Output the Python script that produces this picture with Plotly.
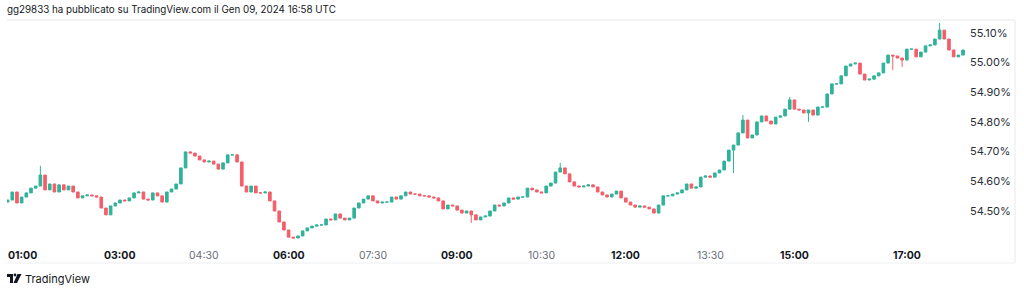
import pandas as pd
import plotly.graph_objects as go

# ---- data (5-minute candles, Jan 09 2024, local time) ----
START = "2024-01-09 01:00"
FIRST_OPEN = 54.530
CLOSES = [
    54.537, 54.564, 54.527, 54.547, 54.561, 54.577, 54.584, 54.621, 54.571, 54.591,
    54.564, 54.588, 54.571, 54.584, 54.564, 54.544, 54.551, 54.554, 54.551, 54.547,
    54.510, 54.487, 54.517, 54.527, 54.537, 54.534, 54.544, 54.561, 54.564, 54.540,
    54.537, 54.561, 54.551, 54.530, 54.564, 54.574, 54.591, 54.645, 54.699, 54.695,
    54.685, 54.672, 54.665, 54.668, 54.658, 54.641, 54.662, 54.689, 54.689, 54.665,
    54.584, 54.564, 54.584, 54.561, 54.561, 54.564, 54.534, 54.500, 54.463, 54.436,
    54.412, 54.409, 54.416, 54.433, 54.443, 54.449, 54.453, 54.453, 54.473, 54.470,
    54.490, 54.476, 54.470, 54.476, 54.510, 54.527, 54.540, 54.551, 54.534, 54.527,
    54.530, 54.530, 54.547, 54.540, 54.551, 54.564, 54.557, 54.557, 54.551, 54.551,
    54.547, 54.544, 54.534, 54.507, 54.520, 54.517, 54.503, 54.493, 54.500, 54.487,
    54.470, 54.480, 54.483, 54.500, 54.520, 54.517, 54.527, 54.544, 54.540, 54.547,
    54.547, 54.577, 54.571, 54.564, 54.561, 54.584, 54.594, 54.631, 54.645, 54.625,
    54.598, 54.584, 54.581, 54.584, 54.588, 54.581, 54.564, 54.554, 54.547, 54.557,
    54.567, 54.544, 54.530, 54.520, 54.513, 54.517, 54.513, 54.507, 54.493, 54.520,
    54.551, 54.551, 54.557, 54.561, 54.571, 54.591, 54.577, 54.581, 54.614, 54.618,
    54.614, 54.628, 54.638, 54.668, 54.705, 54.722, 54.763, 54.806, 54.746, 54.756,
    54.800, 54.820, 54.803, 54.793, 54.816, 54.820, 54.843, 54.874, 54.843, 54.840,
    54.830, 54.840, 54.823, 54.850, 54.850, 54.894, 54.928, 54.928, 54.955, 54.988,
    54.995, 54.998, 54.961, 54.941, 54.944, 54.955, 54.965, 54.998, 55.025, 55.022,
    55.015, 55.008, 55.045, 55.045, 55.019, 55.035, 55.056, 55.059, 55.079, 55.109,
    55.079, 55.042, 55.019, 55.025, 55.042,
]
# notable wicks (candle index -> extreme)
WICK_HIGH = {7: 54.652, 118: 54.662, 157: 54.823, 167: 54.884, 199: 55.133}
WICK_LOW = {99: 54.460, 155: 54.628, 171: 54.800, 189: 54.975, 191: 54.985}

Y_TICKS = [54.50, 54.60, 54.70, 54.80, 54.90, 55.00, 55.10]
Y_TICK_LABELS = ["54.50%", "54.60%", "54.70%", "54.80%", "54.90%", "55.00%", "55.10%"]
X_TICKS = ["2024-01-09 01:00", "2024-01-09 03:00", "2024-01-09 04:30", "2024-01-09 06:00",
           "2024-01-09 07:30", "2024-01-09 09:00", "2024-01-09 10:30", "2024-01-09 12:00",
           "2024-01-09 13:30", "2024-01-09 15:00", "2024-01-09 17:00"]
X_TICK_LABELS = ["01:00", "03:00", "04:30", "06:00", "07:30", "09:00", "10:30",
                 "12:00", "13:30", "15:00", "17:00"]
X_TICK_BOLD = [True, True, False, True, False, True, False, True, False, True, True]

TITLE = "gg29833 ha pubblicato su TradingView.com il Gen 09, 2024 16:58 UTC"

# ---- build OHLC ----
times = pd.date_range(START, periods=len(CLOSES), freq="5min")
opens = [FIRST_OPEN] + CLOSES[:-1]
highs = [max(o, c) for o, c in zip(opens, CLOSES)]
lows = [min(o, c) for o, c in zip(opens, CLOSES)]
for k, v in WICK_HIGH.items():
    highs[k] = max(highs[k], v)
for k, v in WICK_LOW.items():
    lows[k] = min(lows[k], v)

UP = "#2fb39a"
DOWN = "#f45e69"
FONT = "Inter"

fig = go.Figure(go.Candlestick(
    x=times, open=opens, high=highs, low=lows, close=CLOSES,
    increasing=dict(line=dict(color=UP, width=1), fillcolor=UP),
    decreasing=dict(line=dict(color=DOWN, width=1), fillcolor=DOWN),
    whiskerwidth=0, showlegend=False, hoverinfo="skip",
))

# layout geometry (pixels)
L, R, T, B = 7, 966, 20, 245
W, H = R - L, B - T


def px(x):
    return (x - L) / W


def py(y):
    return (B - y) / H


fig.update_layout(
    width=1024, height=292,
    margin=dict(l=L, r=1024 - R, t=T, b=292 - B),
    paper_bgcolor="white", plot_bgcolor="white",
    font=dict(family=FONT, size=11, color="#131722"),
    boxgap=0.2,
    xaxis=dict(
        range=["2024-01-09 00:59:22", "2024-01-09 18:03:11"],
        showgrid=False, zeroline=False, showticklabels=False, ticks="",
        rangeslider=dict(visible=False), showline=False, fixedrange=True,
    ),
    yaxis=dict(
        side="right", range=[54.3855, 55.1431],
        tickvals=Y_TICKS, ticktext=Y_TICK_LABELS,
        showgrid=False, zeroline=False, showline=False, ticks="",
        tickfont=dict(family=FONT, size=11, color="#2a2e39"),
        ticklabelstandoff=3, fixedrange=True,
    ),
)

annotations = [
    dict(text=TITLE, xref="paper", yref="paper", x=px(5), y=py(10),
         xanchor="left", yanchor="middle", showarrow=False,
         font=dict(family=FONT, size=9.8, color="#131722")),
    dict(text="TradingView", xref="paper", yref="paper", x=px(23), y=py(279),
         xanchor="left", yanchor="middle", showarrow=False,
         font=dict(family=FONT, size=11, color="#131722")),
]
for i, (t, lab, bold) in enumerate(zip(X_TICKS, X_TICK_LABELS, X_TICK_BOLD)):
    txt = f"<b>{lab}</b>" if bold else lab
    annotations.append(dict(
        text=txt, xref="x", yref="paper", x=t, y=py(255),
        xanchor="left" if i == 0 else "center", yanchor="middle", showarrow=False,
        xshift=-2 if i == 0 else 0,
        font=dict(family=FONT, size=10.5, color="#131722" if bold else "#6a6d78"),
    ))
fig.update_layout(annotations=annotations)

# frame and logo
shapes = [
    dict(type="line", xref="paper", yref="paper", x0=px(7), x1=px(1015), y0=py(20), y1=py(20),
         line=dict(color="#e8e9ee", width=1)),
    dict(type="line", xref="paper", yref="paper", x0=px(7), x1=px(1015), y0=py(263), y1=py(263),
         line=dict(color="#eeeff3", width=1)),
    dict(type="line", xref="paper", yref="paper", x0=px(1015), x1=px(1015), y0=py(20), y1=py(263),
         line=dict(color="#e8e9ee", width=1)),
]


def poly(pts):
    d = "M " + " L ".join(f"{px(x):.5f},{py(y):.5f}" for x, y in pts) + " Z"
    return dict(type="path", xref="paper", yref="paper", path=d,
                fillcolor="#131722", line=dict(width=0))


shapes.append(poly([(7, 274), (13, 274), (13, 283), (10, 283), (10, 277), (7, 277)]))
shapes.append(dict(type="circle", xref="paper", yref="paper",
                   x0=px(13.6), x1=px(16.4), y0=py(273.6), y1=py(276.4),
                   fillcolor="#131722", line=dict(width=0)))
shapes.append(poly([(17.5, 274), (21.5, 274), (17, 283), (13.5, 283)]))
fig.update_layout(shapes=shapes)

fig.write_html("out.html")
